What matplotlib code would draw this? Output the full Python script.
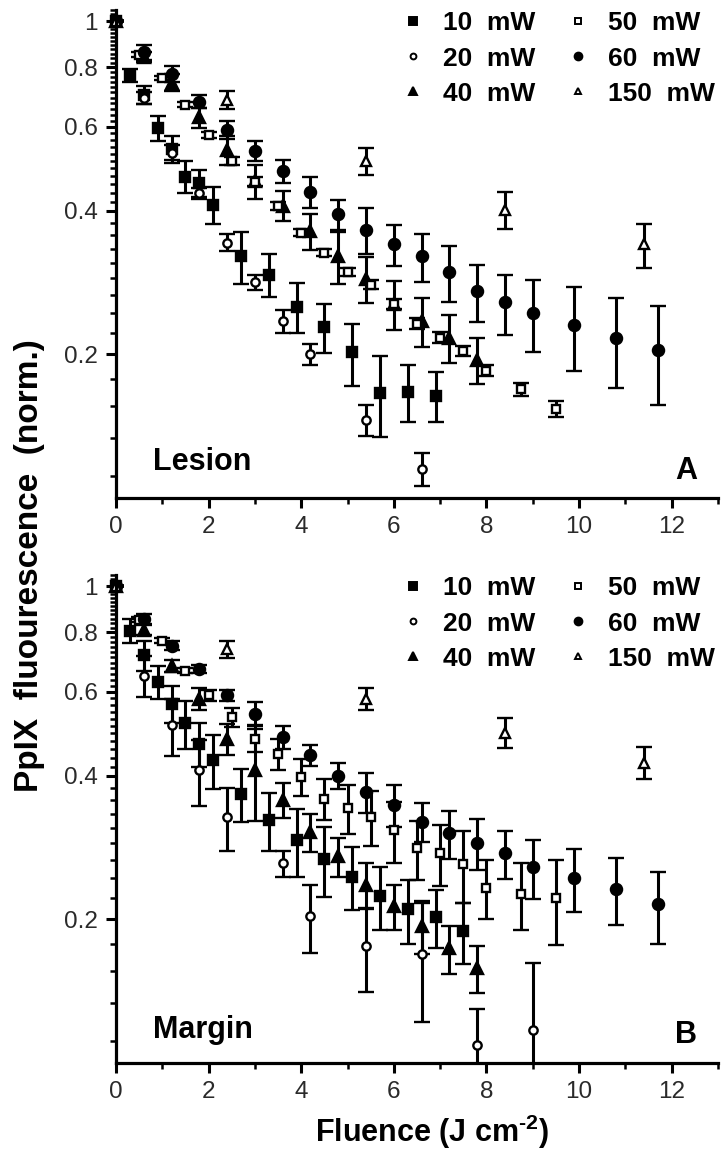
import numpy as np
import matplotlib
matplotlib.use("Agg")
import matplotlib.pyplot as plt
from matplotlib.ticker import NullFormatter
from matplotlib.lines import Line2D

plt.rcParams['font.family'] = ['Liberation Sans', 'DejaVu Sans']
plt.rcParams['mathtext.fontset'] = 'custom'
plt.rcParams['mathtext.rm'] = 'Liberation Sans:bold'
plt.rcParams['mathtext.bf'] = 'Liberation Sans:bold'

# ---- data, panel A (lesion) ----
xA10 = [0, 0.3, 0.6, 0.9, 1.2, 1.5, 1.8, 2.1, 2.7, 3.3, 3.9, 4.5, 5.1, 5.7, 6.3, 6.9]
yA10 = [1.0, 0.77, 0.70, 0.596, 0.54, 0.472, 0.458, 0.412, 0.321, 0.294, 0.252, 0.228, 0.202, 0.166, 0.167, 0.164]
eA10 = [0, 0.025, 0.03, 0.035, 0.035, 0.037, 0.03, 0.036, 0.04, 0.03, 0.03, 0.027, 0.03, 0.032, 0.023, 0.02]

xA20 = [0, 0.6, 1.2, 1.8, 2.4, 3.0, 3.6, 4.2, 5.4, 6.6]
yA20 = [1.0, 0.69, 0.53, 0.435, 0.343, 0.283, 0.235, 0.2, 0.146, 0.115]
eA20 = [0, 0.02, 0.02, 0.012, 0.014, 0.01, 0.013, 0.01, 0.011, 0.009]

xA40 = [0, 0.6, 1.2, 1.8, 2.4, 3.0, 3.6, 4.2, 4.8, 5.4, 6.0, 6.6, 7.2, 7.8]
yA40 = [1.0, 0.84, 0.743, 0.628, 0.537, 0.461, 0.41, 0.362, 0.321, 0.288, 0.255, 0.235, 0.217, 0.195]
eA40 = [0, 0.02, 0.03, 0.03, 0.038, 0.037, 0.03, 0.031, 0.04, 0.032, 0.03, 0.028, 0.025, 0.022]

xA50 = [0, 0.5, 1.0, 1.5, 2.0, 2.5, 3.0, 3.5, 4.0, 4.5, 5.0, 5.5, 6.0, 6.5, 7.0, 7.5, 8.0, 8.75, 9.5]
yA50 = [1.0, 0.85, 0.759, 0.667, 0.577, 0.508, 0.46, 0.409, 0.36, 0.327, 0.298, 0.28, 0.255, 0.232, 0.217, 0.203, 0.185, 0.169, 0.154]
eA50 = [0, 0.01, 0.008, 0.008, 0.008, 0.01, 0.01, 0.008, 0.006, 0.006, 0.006, 0.006, 0.006, 0.006, 0.006, 0.005, 0.005, 0.005, 0.006]

xA60 = [0, 0.6, 1.2, 1.8, 2.4, 3.0, 3.6, 4.2, 4.8, 5.4, 6.0, 6.6, 7.2, 7.8, 8.4, 9.0, 9.9, 10.8, 11.7]
yA60 = [1.0, 0.86, 0.775, 0.678, 0.592, 0.535, 0.484, 0.439, 0.393, 0.365, 0.34, 0.321, 0.298, 0.271, 0.257, 0.244, 0.231, 0.216, 0.2045]
eA60 = [0, 0.03, 0.03, 0.02, 0.025, 0.026, 0.027, 0.033, 0.028, 0.04, 0.033, 0.037, 0.04, 0.037, 0.037, 0.042, 0.046, 0.046, 0.048]

xA150 = [0, 2.4, 5.4, 8.4, 11.4]
yA150 = [1.0, 0.683, 0.508, 0.402, 0.34]
eA150 = [0, 0.03, 0.033, 0.035, 0.036]

# ---- data, panel B (margin) ----
xB10 = [0, 0.3, 0.6, 0.9, 1.2, 1.5, 1.8, 2.1, 2.7, 3.3, 3.9, 4.5, 5.1, 5.7, 6.3, 6.9, 7.5]
yB10 = [1.0, 0.806, 0.715, 0.629, 0.566, 0.515, 0.467, 0.431, 0.367, 0.323, 0.293, 0.268, 0.246, 0.224, 0.21, 0.202, 0.189]
eB10 = [0, 0.045, 0.05, 0.05, 0.05, 0.06, 0.05, 0.055, 0.047, 0.045, 0.047, 0.045, 0.037, 0.034, 0.032, 0.028, 0.028]

xB20 = [0, 0.6, 1.2, 1.8, 2.4, 3.6, 4.2, 5.4, 6.6, 7.8, 9.0]
yB20 = [1.0, 0.649, 0.51, 0.411, 0.328, 0.262, 0.203, 0.176, 0.169, 0.109, 0.117]
eB20 = [0, 0.065, 0.07, 0.065, 0.05, 0.016, 0.033, 0.035, 0.047, 0.021, 0.045]

xB40 = [0, 0.6, 1.2, 1.8, 2.4, 3.0, 3.6, 4.2, 4.8, 5.4, 6.0, 6.6, 7.2, 7.8]
yB40 = [1.0, 0.81, 0.681, 0.58, 0.478, 0.411, 0.356, 0.305, 0.271, 0.236, 0.213, 0.194, 0.174, 0.158]
eB40 = [0, 0.02, 0.02, 0.03, 0.036, 0.09, 0.03, 0.028, 0.025, 0.026, 0.023, 0.025, 0.02, 0.018]

xB50 = [0, 0.5, 1.0, 1.5, 2.0, 2.5, 3.0, 3.5, 4.0, 4.5, 5.0, 5.5, 6.0, 6.5, 7.0, 7.5, 8.0, 8.75, 9.5]
yB50 = [1.0, 0.85, 0.768, 0.665, 0.59, 0.531, 0.478, 0.445, 0.398, 0.358, 0.342, 0.328, 0.308, 0.282, 0.275, 0.261, 0.233, 0.226, 0.222]
eB50 = [0, 0.01, 0.01, 0.008, 0.015, 0.025, 0.03, 0.033, 0.036, 0.035, 0.04, 0.043, 0.045, 0.04, 0.04, 0.045, 0.033, 0.036, 0.045]

xB60 = [0, 0.6, 1.2, 1.8, 2.4, 3.0, 3.6, 4.2, 4.8, 5.4, 6.0, 6.6, 7.2, 7.8, 8.4, 9.0, 9.9, 10.8, 11.7]
yB60 = [1.0, 0.853, 0.75, 0.67, 0.59, 0.54, 0.482, 0.442, 0.40, 0.37, 0.348, 0.32, 0.303, 0.289, 0.275, 0.257, 0.244, 0.232, 0.215]
eB60 = [0, 0.02, 0.015, 0.012, 0.015, 0.03, 0.027, 0.022, 0.025, 0.035, 0.035, 0.03, 0.035, 0.035, 0.032, 0.036, 0.037, 0.037, 0.037]

xB150 = [0, 2.4, 5.4, 8.4, 11.4]
yB150 = [1.0, 0.738, 0.58, 0.493, 0.426]
eB150 = [0, 0.03, 0.03, 0.035, 0.033]

labels = ['10  mW', '20  mW', '40  mW', '50  mW', '60  mW', '150  mW']
# marker, filled?, size
styles = [('s', True, 7.5), ('o', False, 6.0), ('^', True, 8.5),
          ('s', False, 5.5), ('o', True, 8.0), ('^', False, 7.0)]

panelA = [(xA10, yA10, eA10), (xA20, yA20, eA20), (xA40, yA40, eA40),
          (xA50, yA50, eA50), (xA60, yA60, eA60), (xA150, yA150, eA150)]
panelB = [(xB10, yB10, eB10), (xB20, yB20, eB20), (xB40, yB40, eB40),
          (xB50, yB50, eB50), (xB60, yB60, eB60), (xB150, yB150, eB150)]

y_major = [0.2, 0.4, 0.6, 0.8, 1.0]
y_major_labels = ['0.2', '0.4', '0.6', '0.8', '1']
# Origin-style linear minor ticks between the major ticks
y_minor = list(np.arange(0.2 - 4 * 0.2 / 9, 0.4, 0.2 / 9)) + list(np.arange(0.4, 1.06, 0.2 / 11))

W, H = 722, 1153
fig = plt.figure(figsize=(W / 100, H / 100), dpi=100)
axA = fig.add_axes([116 / W, (H - 498) / H, 602 / W, 488 / H])
axB = fig.add_axes([116 / W, (H - 1063) / H, 602 / W, 488 / H])


def draw_panel(ax, data, name, letter, name_y, letter_y):
    for (x, y, e), (m, filled, ms) in zip(data, styles):
        line, caps, bars = ax.errorbar(
            x, y, yerr=e, fmt=m, ms=ms, color='black',
            mfc='black' if filled else 'white', mec='black',
            mew=1.7, ecolor='black', elinewidth=2.2, capsize=5.5, capthick=2.2)
        line.set_clip_on(False)
    ax.set_yscale('log')
    ax.set_xlim(0, 13)
    ax.set_ylim(0.1, 1.05)
    ax.set_yticks(y_major, y_major_labels)
    ax.set_yticks(y_minor, minor=True)
    ax.yaxis.set_minor_formatter(NullFormatter())
    ax.set_xticks(np.arange(0, 13, 2))
    ax.set_xticks(np.arange(1, 14, 2), minor=True)
    for s in ['top', 'right']:
        ax.spines[s].set_visible(False)
    for s in ['left', 'bottom']:
        ax.spines[s].set_linewidth(2.3)
    ax.tick_params(which='major', direction='out', length=7, width=2.2,
                   labelsize=17.5, pad=6, labelcolor='#2a2a2a')
    ax.tick_params(which='minor', direction='out', length=4.5, width=1.8)

    handles = [Line2D([], [], ls='none', marker=m, ms=ms * 0.7, color='black',
                      mfc='black' if f else 'white', mec='black', mew=1.4)
               for m, f, ms in styles]
    ax.legend(handles, labels, ncol=2, loc='upper left',
              bbox_to_anchor=((401 - 116) / 602, 0.997),
              frameon=False, borderpad=0, borderaxespad=0,
              handlelength=0.9, handletextpad=0.7, columnspacing=1.15,
              labelspacing=0.42, prop={'weight': 'bold', 'size': 19})

    ax.text(0.061, name_y, name, transform=ax.transAxes, fontsize=22,
            fontweight='bold', ha='left', va='baseline')
    ax.text(0.965, letter_y, letter, transform=ax.transAxes, fontsize=22,
            fontweight='bold', ha='right', va='baseline')


draw_panel(axA, panelA, 'Lesion', 'A', 0.057, 0.039)
draw_panel(axB, panelB, 'Margin', 'B', 0.051, 0.041)

fig.text(30 / W, 1 - 566 / H, 'PpIX  fluourescence  (norm.)', rotation=90,
         ha='center', va='center', fontsize=24, fontweight='bold')
fig.text(432 / W, 11 / H, r'Fluence (J cm$^{\text{-2}}$)', ha='center',
         va='baseline', fontsize=22, fontweight='bold')

fig.savefig('out.png', dpi=100)
